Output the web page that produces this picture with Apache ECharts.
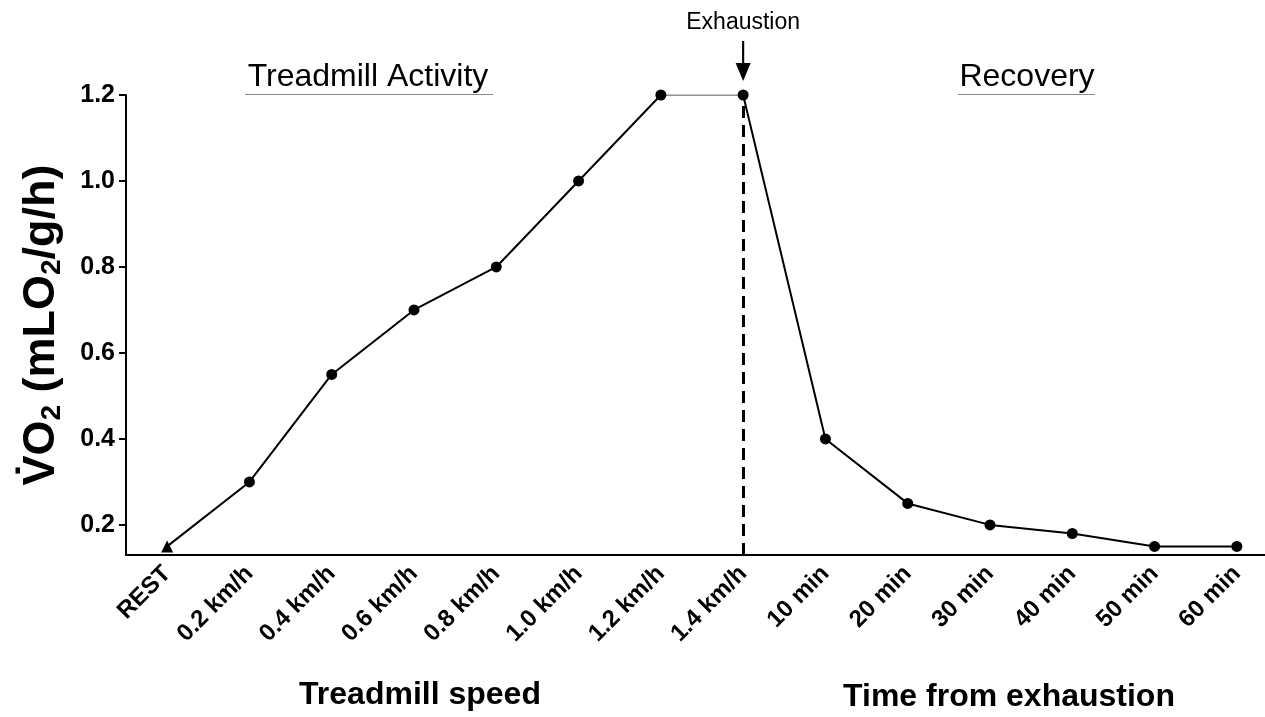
<!DOCTYPE html>
<html>
<head>
<meta charset="utf-8">
<script src="https://cdn.jsdelivr.net/npm/echarts@6/dist/echarts.min.js"></script>
<style>
  html, body { margin: 0; padding: 0; background: #fff; }
  #main { width: 1265px; height: 717px; }
</style>
</head>
<body>
<div id="main"></div>
<script>
const categories = ['REST', '0.2 km/h', '0.4 km/h', '0.6 km/h', '0.8 km/h', '1.0 km/h', '1.2 km/h',
  '1.4 km/h', '10 min', '20 min', '30 min', '40 min', '50 min', '60 min'];
const vo2 = [0.15, 0.3, 0.55, 0.7, 0.8, 1.0, 1.2, 1.2, 0.4, 0.25, 0.2, 0.18, 0.15, 0.15];
const yTicks = [0.2, 0.4, 0.6, 0.8, 1.0, 1.2];
const exhaustionAt = '1.4 km/h';

const FONT = 'Liberation Sans, Arial, sans-serif';

// split the curve into activity / plateau / recovery pieces
function piece(from, to) {
  return vo2.map((v, i) => (i >= from && i <= to ? v : null));
}

const chart = echarts.init(document.getElementById('main'));

const markerStyle = { color: '#000' };

chart.setOption({
  backgroundColor: '#fff',
  animation: false,
  grid: { left: 126, width: 1152, top: 95, bottom: 162, outerBoundsMode: 'none', containLabel: false },
  xAxis: {
    type: 'category',
    data: categories,
    boundaryGap: true,
    axisLine: { lineStyle: { color: '#000', width: 2 } },
    axisTick: { alignWithLabel: true, length: 7, lineStyle: { color: '#000', width: 2 } },
    axisLabel: {
      interval: 0, rotate: 45, margin: 15,
      color: '#000', fontFamily: FONT, fontWeight: 'bold', fontSize: 24
    }
  },
  yAxis: {
    type: 'value',
    min: 0.13,
    max: 1.2,
    splitLine: { show: false },
    axisLine: { show: true, lineStyle: { color: '#000', width: 2 } },
    axisTick: { show: true, length: 7, customValues: yTicks, lineStyle: { color: '#000', width: 2 } },
    axisLabel: {
      customValues: yTicks, margin: 11,
      color: '#000', fontFamily: FONT, fontWeight: 'bold', fontSize: 25,
      formatter: v => v.toFixed(1)
    },
    name: '{a|V\u0307O}{s|2}{a| (mLO}{s|2}{a|/g/h)}',
    nameLocation: 'middle',
    nameRotate: 90,
    nameGap: 60,
    nameTextStyle: {
      rich: {
        a: { fontFamily: FONT, fontWeight: 'bold', fontSize: 45, color: '#000' },
        s: { fontFamily: FONT, fontWeight: 'bold', fontSize: 28, color: '#000', padding: [20, 0, 0, 0] }
      }
    }
  },
  series: [
    {
      type: 'line',
      data: piece(0, 6),
      symbol: (v, p) => (p.dataIndex === 0 ? 'triangle' : 'circle'),
      symbolSize: (v, p) => (p.dataIndex === 0 ? 12 : 11),
      itemStyle: markerStyle,
      lineStyle: { color: '#000', width: 2 },
      connectNulls: false
    },
    {
      type: 'line',
      data: piece(6, 7),
      symbol: 'none',
      lineStyle: { color: '#222', width: 1.2 }
    },
    {
      type: 'line',
      data: piece(7, 13),
      symbol: 'circle',
      symbolSize: 11,
      itemStyle: markerStyle,
      lineStyle: { color: '#000', width: 2 },
      z: 3,
      markLine: {
        silent: true,
        symbol: 'none',
        label: { show: false },
        lineStyle: { color: '#000', width: 3, type: [12, 7] },
        data: [{ xAxis: exhaustionAt }]
      },
      markPoint: {
        silent: true,
        symbol: 'path://M6,0 L8,0 L8,22 L14,22 L7,40 L0,22 L6,22 Z',
        symbolSize: [15, 40],
        symbolOffset: [0, -34],
        itemStyle: { color: '#000' },
        label: {
          show: true, position: 'top', distance: 7,
          formatter: 'Exhaustion', color: '#000', fontFamily: FONT, fontSize: 23
        },
        data: [{ coord: [exhaustionAt, vo2[7]] }]
      }
    }
  ],
  graphic: [
    { type: 'text', x: 368, y: 93, style: { text: 'Treadmill Activity', fill: '#000', font: '32px ' + FONT, align: 'center', verticalAlign: 'bottom' } },
    { type: 'line', shape: { x1: 245, y1: 94.5, x2: 493, y2: 94.5 }, style: { stroke: '#888', lineWidth: 1 } },
    { type: 'text', x: 1027, y: 93, style: { text: 'Recovery', fill: '#000', font: '32px ' + FONT, align: 'center', verticalAlign: 'bottom' } },
    { type: 'line', shape: { x1: 958, y1: 94.5, x2: 1095, y2: 94.5 }, style: { stroke: '#888', lineWidth: 1 } },
    { type: 'text', x: 420, y: 695, style: { text: 'Treadmill speed', fill: '#000', font: 'bold 32px ' + FONT, align: 'center', verticalAlign: 'middle' } },
    { type: 'text', x: 1009, y: 697, style: { text: 'Time from exhaustion', fill: '#000', font: 'bold 32px ' + FONT, align: 'center', verticalAlign: 'middle' } }
  ]
});
</script>
</body>
</html>
